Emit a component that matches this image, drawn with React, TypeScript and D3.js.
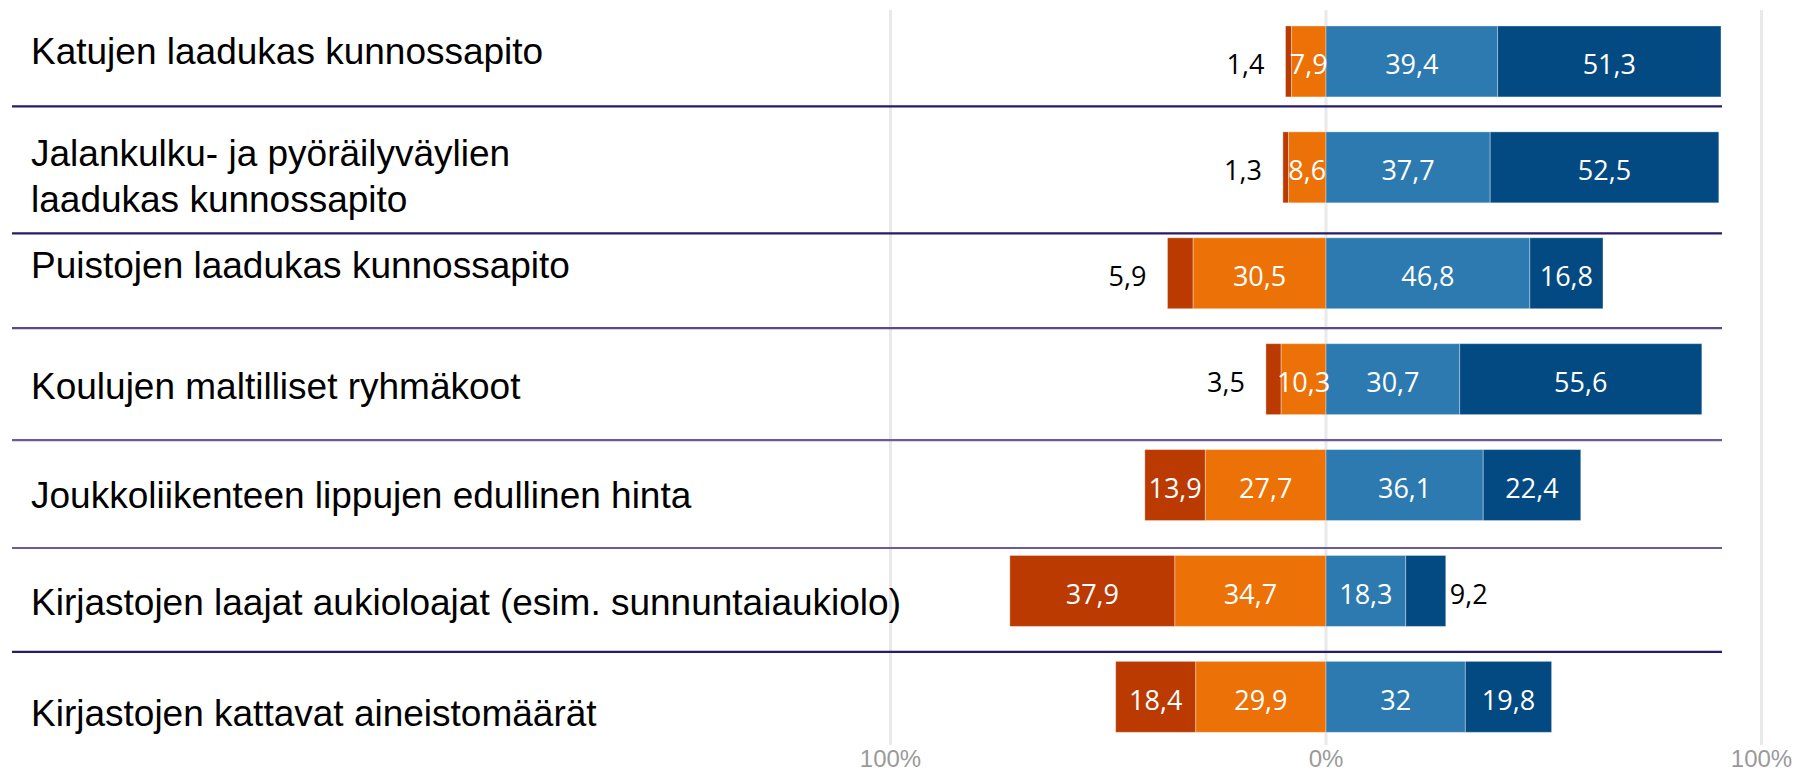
import React from 'react';
import * as d3 from 'd3';

const categories = [
  'Katujen laadukas kunnossapito',
  'Jalankulku- ja pyöräilyväylien\nlaadukas kunnossapito',
  'Puistojen laadukas kunnossapito',
  'Koulujen maltilliset ryhmäkoot',
  'Joukkoliikenteen lippujen edullinen hinta',
  'Kirjastojen laajat aukioloajat (esim. sunnuntaiaukiolo)',
  'Kirjastojen kattavat aineistomäärät',
];

// stacked diverging values (percent)
const stronglyNegative = [1.4, 1.3, 5.9, 3.5, 13.9, 37.9, 18.4];
const negative = [7.9, 8.6, 30.5, 10.3, 27.7, 34.7, 29.9];
const positive = [39.4, 37.7, 46.8, 30.7, 36.1, 18.3, 32];
const stronglyPositive = [51.3, 52.5, 16.8, 55.6, 22.4, 9.2, 19.8];

const tickValues = [-100, 0, 100];
const tickLabels = ['100%', '0%', '100%'];

const colors = ['#bb3a02', '#ec7107', '#2d7ab0', '#034a82'];

// layout tweaks (label baselines relative to bar centre, separator offsets)
const labelOffsets = [3, -1, 5, 20, 23, 24, 29];
const sepOffsets = [-8, 13, 2, 8, 10, 8];
const sepColors = ['#2a1a6a', '#2a1a6a', '#5a4a8a', '#6b5b9b', '#6b5b9b', '#2a1a6a'];

const W = 1797;
const H = 775;

const fmt = (v: number) => String(v).replace('.', ',');

export default function App() {
  const x = d3.scaleLinear().domain([-100, 100]).range([890.5, 1761.5]);
  const y = d3
    .scaleBand<number>()
    .domain(categories.map((_, i) => i))
    .range([8.5, 749.8])
    .paddingInner(0.33)
    .paddingOuter(0.165);
  const bw = y.bandwidth();

  const rows = categories.map((c, i) => {
    const sn = stronglyNegative[i];
    const n = negative[i];
    const p = positive[i];
    const sp = stronglyPositive[i];
    const segs = [
      { x0: -(sn + n), x1: -n, v: sn, c: colors[0], extreme: 'left' },
      { x0: -n, x1: 0, v: n, c: colors[1], extreme: '' },
      { x0: 0, x1: p, v: p, c: colors[2], extreme: '' },
      { x0: p, x1: p + sp, v: sp, c: colors[3], extreme: 'right' },
    ];
    return { c, i, segs };
  });

  const seps = sepOffsets.map((o, k) => {
    const a = (y(k) as number) + bw;
    const b = y(k + 1) as number;
    return { y: (a + b) / 2 + o, color: sepColors[k] };
  });

  return (
    <div style={{ position: 'absolute', left: 0, top: 0 }}>
      <svg width={W} height={H} style={{ display: 'block', background: '#fff' }}>
        {/* gridlines */}
        {tickValues.map((t) => (
          <line
            key={t}
            x1={x(t)}
            x2={x(t)}
            y1={10}
            y2={745}
            stroke="#e9e9e9"
            strokeWidth={3}
          />
        ))}
        {/* separators */}
        {seps.map((s, k) => (
          <line
            key={k}
            x1={12}
            x2={1722}
            y1={s.y}
            y2={s.y}
            stroke={s.color}
            strokeWidth={2.2}
          />
        ))}
        {/* bars */}
        {rows.map((r) => {
          const top = y(r.i) as number;
          const cy = top + bw / 2;
          return (
            <g key={r.i}>
              {r.segs.map((s, k) => (
                <rect
                  key={k}
                  x={x(s.x0)}
                  y={top}
                  width={x(s.x1) - x(s.x0)}
                  height={bw}
                  fill={s.c}
                  stroke="rgba(255,255,255,0.35)"
                  strokeWidth={1}
                />
              ))}
              {r.segs.map((s, k) => {
                const outside = s.extreme !== '' && s.v < 10;
                let tx = (x(s.x0) + x(s.x1)) / 2;
                let anchor: any = 'middle';
                if (outside && s.extreme === 'left') {
                  tx = x(s.x0) - 21;
                  anchor = 'end';
                } else if (outside && s.extreme === 'right') {
                  tx = x(s.x1) + 4;
                  anchor = 'start';
                }
                return (
                  <text
                    key={'t' + k}
                    x={tx}
                    y={cy + 13}
                    textAnchor={anchor}
                    fontFamily="'Open Sans', 'Noto Sans', sans-serif"
                    fontSize={27}
                    fill={outside ? '#000' : '#fff'}
                  >
                    {fmt(s.v)}
                  </text>
                );
              })}
              {/* category label */}
              <text
                x={31}
                y={cy + labelOffsets[r.i]}
                fontFamily="'Liberation Sans', Arial, sans-serif"
                fontSize={37}
                fill="#000"
              >
                {r.c.split('\n').map((line, li) => (
                  <tspan key={li} x={31} dy={li === 0 ? 0 : 46}>
                    {line}
                  </tspan>
                ))}
              </text>
            </g>
          );
        })}
        {/* axis labels */}
        {tickValues.map((t, k) => (
          <text
            key={'a' + t}
            x={x(t)}
            y={767}
            textAnchor="middle"
            fontFamily="'Liberation Sans', Arial, sans-serif"
            fontSize={24}
            fill="#9a9a9a"
          >
            {tickLabels[k]}
          </text>
        ))}
      </svg>
    </div>
  );
}
